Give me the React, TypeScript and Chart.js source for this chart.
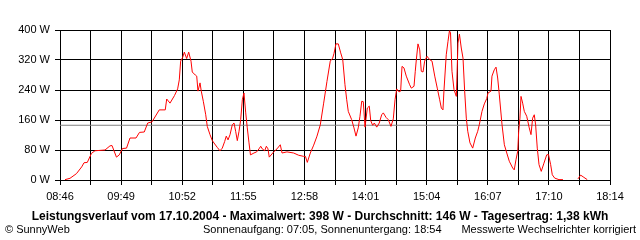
import React, { useEffect, useRef } from "react";
import { Chart, registerables } from "chart.js";

Chart.register(...registerables);

// Minutes after 08:46 (axis start) for each measurement
const START_MINUTES = 526; // 08:46
const AXIS_SPAN = 568; // 08:46 .. 18:14
const minutesAfterStart: number[] = [
  5.2, 10.3, 17, 22.4, 24.8, 28.2, 32.5, 36.1, 46.5, 51.6, 53.7, 58.3, 61.2, 64.5, 68.7,
  72.3, 78.5, 82.1, 87, 90.6, 95, 102.5, 108.7, 110.2, 113.6, 118.2, 121.5, 123.2, 124.6,
  126.7, 128.4, 130.8, 132.9, 135.3, 136.6, 139.7, 141.2, 142.5, 144.6, 145.9, 148, 150.5,
  152.1, 154.9, 157.3, 159.8, 162.4, 165.2, 167.6, 170.1, 171.7, 173.5, 175.6, 177.9, 179.7,
  181.4, 183.1, 184.9, 186.6, 188.3, 190, 191.8, 193.4, 195.2, 196.7, 200.3, 203.1, 205.5,
  207.3, 208.9, 211.4, 213.1, 214.8, 216.1, 220.7, 224.1, 227.5, 229.3, 234.4, 241.3, 246.5,
  251.7, 253.5, 255.4, 258.5, 262, 265.4, 268.8, 272.3, 275.7, 279.1, 281.6, 283, 285, 287.4,
  289.9, 292, 294.3, 296.1, 297.7, 301.2, 303.6, 305.7, 308, 309.8, 311.6, 313.2, 315, 317.4,
  319.4, 320.9, 322.9, 324.6, 327.1, 329.7, 332.2, 333.9, 336.7, 339, 341.8, 344.2, 346,
  347.7, 350.1, 351.8, 353.2, 355.2, 357.6, 361.1, 362.8, 365.6, 366.9, 368, 369.7, 371.5,
  373.1, 374.9, 376.6, 379, 381.8, 384.2, 387, 389.6, 392.1, 393.8, 395.5, 396.5, 398.9,
  400.7, 402.2, 403.3, 404.8, 406.9, 409.3, 411, 412.5, 414.4, 416.2, 417.9, 419.6, 421.1,
  423.4, 426.2, 428.9, 431.4, 433, 435.8, 438.2, 440.7, 442, 445.1, 446.1, 448.5, 450.3,
  452, 453.7, 456.5, 458.9, 461.4, 464, 467.5, 469.1, 470.9, 472.7, 473.7, 475, 476.1,
  477.8, 479.5, 482, 484.6, 486.4, 488.1, 489.8, 491.2, 492.9, 494.7, 497, 499.8, 502.6,
  504.5, 506.7, 508.4, 510.9, 515.3, 519.4, 527, 534.9, 537.7, 541.1, 544.5,
];

// Power in W (null = no measurement)
const powerWatts: (number | null)[] = [
  1, 4.5, 17, 35, 46, 47, 71, 78, 80, 91, 92, 61, 67, 84, 85,
  112, 112, 127, 128, 152, 155, 187, 187, 216, 205, 225, 243, 267, 317,
  327, 341, 324, 341, 317, 288, 280, 277, 237, 259, 237, 210, 174,
  143, 121, 105, 96, 87, 78, 85, 103, 117, 107, 121, 147, 152,
  130, 105, 130, 161, 214, 232, 179, 139, 99, 67, 72, 75, 83,
  90, 83, 78, 90, 83, 61, 75, 83, 94, 72, 75, 72, 66,
  63, 63, 47, 72, 93, 117, 147, 205, 263, 317, 325, 338, 363, 363,
  339, 321, 254, 214, 183, 161, 139, 117, 139, 170, 210, 209, 141, 192,
  197, 158, 146, 152, 141, 152, 174, 179, 167, 161, 143, 163, 214,
  243, 235, 237, 303, 299, 277, 254, 245, 250, 290, 321, 363, 347,
  290, 288, 317, 330, 321, 317, 277, 245, 214, 192, 187, 237, 334,
  370, 398, 392, 290, 241, 223, 365, 389, 352, 325, 237, 165, 130,
  99, 85, 112, 130, 147, 183, 203, 217, 232, 237, 277, 294, 301,
  272, 227, 147, 94, 72, 50, 32, 27, 54, 77, 130, 165, 223,
  205, 183, 170, 139, 121, 165, 174, 147, 85, 41, 23, 45, 67,
  68, 41, 14, 5, 1, 1, null, 3, 13, 7, 1,
];

const AVERAGE_W = 146;
const yTickStep = 80;
const xTickLabels = ["08:46", "09:49", "10:52", "11:55", "12:58", "14:01", "15:04", "16:07", "17:10", "18:14"];

const titleText =
  "Leistungsverlauf vom 17.10.2004 - Maximalwert: 398 W - Durchschnitt: 146 W - Tagesertrag: 1,38 kWh";
const footerLeft = "© SunnyWeb";
const footerCenter = "Sonnenaufgang: 07:05, Sonnenuntergang: 18:54";
const footerRight = "Messwerte Wechselrichter korrigiert";

const FONT = '"Liberation Sans", Arial, sans-serif';

export default function App() {
  const canvasRef = useRef<HTMLCanvasElement | null>(null);

  useEffect(() => {
    const canvas = canvasRef.current;
    if (!canvas) return;
    const points = minutesAfterStart.map((m, i) => ({ x: m, y: powerWatts[i] }));
    const chart = new Chart(canvas, {
      type: "line",
      data: {
        datasets: [
          {
            data: points as any,
            borderColor: "#ff0000",
            borderWidth: 1,
            pointRadius: 0,
            tension: 0,
            spanGaps: false,
            order: 0,
          },
          {
            data: [
              { x: 0, y: AVERAGE_W },
              { x: AXIS_SPAN, y: AVERAGE_W },
            ],
            borderColor: "#808080",
            borderWidth: 1,
            pointRadius: 0,
            order: 1,
          },
        ],
      },
      options: {
        animation: false,
        responsive: false,
        events: [],
        layout: { padding: { top: 30, right: 30, left: 0, bottom: 0 } },
        plugins: { legend: { display: false }, tooltip: { enabled: false }, title: { display: false } },
        scales: {
          x: {
            type: "linear",
            min: 0,
            max: AXIS_SPAN,
            border: { display: true, color: "#000", width: 1 },
            grid: { color: "#000", lineWidth: 1, tickLength: 5, drawTicks: true },
            afterBuildTicks: (scale: any) => {
              const t = [];
              for (let i = 0; i <= 18; i++) t.push({ value: (i * AXIS_SPAN) / 18 });
              scale.ticks = t;
            },
            afterFit: (scale: any) => {
              scale.height = 60;
            },
            ticks: {
              autoSkip: false,
              maxRotation: 0,
              minRotation: 0,
              padding: 5,
              color: "#000",
              font: { family: FONT, size: 11 },
              callback: (_v: any, i: number) => (i % 2 === 0 ? xTickLabels[i / 2] : ""),
            },
          },
          y: {
            min: 0,
            max: 400,
            border: { display: true, color: "#000", width: 1 },
            grid: { color: "#000", lineWidth: 1, tickLength: 5, drawTicks: true },
            afterFit: (scale: any) => {
              scale.width = 60;
            },
            ticks: {
              stepSize: yTickStep,
              padding: 5,
              color: "#000",
              font: { family: FONT, size: 11 },
              callback: (v: any) => `${v} W`,
            },
          },
        },
      },
    });
    return () => chart.destroy();
  }, []);

  const textBase: React.CSSProperties = {
    position: "absolute",
    fontFamily: FONT,
    fontSize: 11,
    lineHeight: "13px",
    color: "#000",
    whiteSpace: "nowrap",
  };

  return (
    <div style={{ position: "fixed", left: 0, top: 0, width: 640, height: 240, background: "#fff", overflow: "hidden" }}>
      <canvas ref={canvasRef} width={640} height={240} style={{ position: "absolute", left: 0, top: 0, width: 640, height: 240 }} />
      <div style={{ ...textBase, left: 0, width: 640, top: 210, textAlign: "center", fontWeight: "bold", fontSize: 12 }}>
        {titleText}
      </div>
      <div style={{ ...textBase, left: 5, top: 223 }}>{footerLeft}</div>
      <div style={{ ...textBase, left: 203, top: 223 }}>{footerCenter}</div>
      <div style={{ ...textBase, right: 4, top: 223 }}>{footerRight}</div>
    </div>
  );
}
